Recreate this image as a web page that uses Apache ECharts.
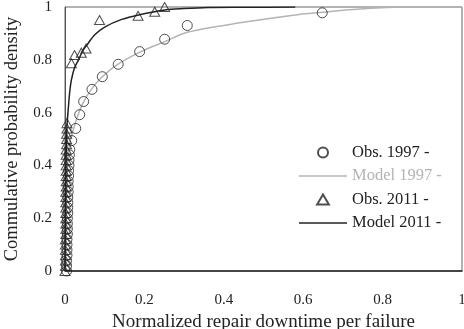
<!DOCTYPE html>
<html>
<head>
<meta charset="utf-8">
<script src="https://cdn.jsdelivr.net/npm/echarts@6/dist/echarts.min.js"></script>
<style>
  html, body { margin: 0; padding: 0; background: #fff; }
  #chart { width: 464px; height: 329px; }
</style>
</head>
<body>
<div id="chart"></div>
<script>
// Observed 1997 repair downtimes (normalized) and their cumulative probability
const obs1997 = [
  [0.004, 0.00], [0.004, 0.02], [0.004, 0.04], [0.005, 0.06], [0.005, 0.08],
  [0.005, 0.10], [0.005, 0.12], [0.006, 0.14], [0.006, 0.16], [0.006, 0.18],
  [0.006, 0.20], [0.007, 0.22], [0.007, 0.24], [0.007, 0.26], [0.007, 0.28],
  [0.008, 0.30], [0.008, 0.32], [0.008, 0.34], [0.009, 0.36], [0.009, 0.38],
  [0.010, 0.40], [0.010, 0.42], [0.011, 0.44], [0.012, 0.46], [0.017, 0.494],
  [0.027, 0.540], [0.037, 0.592], [0.047, 0.642], [0.068, 0.688], [0.094, 0.736],
  [0.134, 0.783], [0.188, 0.831], [0.251, 0.878], [0.308, 0.930], [0.648, 0.978]
];

// Fitted model for 1997
const model1997 = [
  [0, 0], [0.002, 0.20], [0.005, 0.35], [0.008, 0.43], [0.012, 0.485],
  [0.020, 0.530], [0.030, 0.580], [0.045, 0.635], [0.065, 0.685], [0.090, 0.730],
  [0.130, 0.780], [0.190, 0.830], [0.250, 0.868], [0.310, 0.905], [0.440, 0.940],
  [0.590, 0.972], [0.650, 0.980], [0.700, 0.988], [0.830, 0.999], [1.0, 1.0]
];

// Observed 2011 repair downtimes
const obs2011 = [
  [0.000, 0.00], [0.001, 0.02], [0.001, 0.04], [0.001, 0.06], [0.001, 0.08],
  [0.001, 0.10], [0.001, 0.12], [0.002, 0.14], [0.002, 0.16], [0.002, 0.18],
  [0.002, 0.20], [0.002, 0.22], [0.002, 0.24], [0.002, 0.26], [0.002, 0.28],
  [0.002, 0.30], [0.003, 0.32], [0.003, 0.34], [0.003, 0.36], [0.003, 0.38],
  [0.003, 0.40], [0.003, 0.42], [0.003, 0.44], [0.003, 0.46], [0.004, 0.48],
  [0.004, 0.50], [0.004, 0.52], [0.005, 0.54], [0.005, 0.56],
  [0.016, 0.787], [0.024, 0.818], [0.041, 0.827], [0.053, 0.843],
  [0.087, 0.951], [0.184, 0.967], [0.226, 0.982], [0.251, 1.000]
];

// Fitted model for 2011
const model2011 = [
  [0, 0], [0.001, 0.20], [0.002, 0.35], [0.003, 0.45], [0.005, 0.55],
  [0.008, 0.61], [0.012, 0.680], [0.016, 0.723], [0.024, 0.770], [0.034, 0.800],
  [0.045, 0.835], [0.058, 0.862], [0.075, 0.895], [0.101, 0.925], [0.143, 0.953],
  [0.185, 0.970], [0.252, 0.989], [0.300, 0.994], [0.360, 0.998], [0.450, 0.999],
  [0.580, 1.000]
];

const xTicks = { min: 0, max: 1, interval: 0.2 };
const yTicks = { min: 0, max: 1, interval: 0.2 };

const serif = '"Liberation Serif", "Times New Roman", serif';
const ink = '#222';
const grey = '#b4b4b4';

// Legend glyphs: a thin bar for the fitted lines, an open triangle for 2011 points
const lineIcon = 'path://M0,0 H48 V1.5 H0 Z';
const triIcon = 'path://M5,0 L10,8.5 L0,8.5 Z';

const chart = echarts.init(document.getElementById('chart'), null, { renderer: 'canvas' });

const markerStyle = { color: 'rgba(255,255,255,0)', borderColor: ink, borderWidth: 1 };

chart.setOption({
  animation: false,
  backgroundColor: '#fff',
  textStyle: { fontFamily: serif },
  grid: {
    left: 65, right: 2, top: 7, bottom: 58,
    outerBoundsMode: 'none', containLabel: false,
    show: true, borderColor: '#666', borderWidth: 1
  },
  legend: {
    orient: 'vertical',
    left: 294, top: 139,
    itemWidth: 48, itemHeight: 10, itemGap: 6.5,
    symbolKeepAspect: true,
    textStyle: { fontFamily: serif, fontSize: 16.5, color: ink },
    data: [
      { name: 'Obs. 1997 -', icon: 'circle' },
      { name: 'Model 1997 -', icon: lineIcon, textStyle: { color: grey } },
      { name: 'Obs. 2011 -', icon: triIcon },
      { name: 'Model 2011 -', icon: lineIcon }
    ]
  },
  xAxis: {
    type: 'value',
    min: xTicks.min, max: xTicks.max, interval: xTicks.interval,
    name: 'Normalized repair downtime per failure',
    nameLocation: 'middle', nameGap: 37,
    nameTextStyle: { fontFamily: serif, fontSize: 19, color: ink },
    axisLine: { lineStyle: { color: ink, width: 1.5 } },
    axisTick: { show: false },
    splitLine: { show: false },
    axisLabel: { fontFamily: serif, fontSize: 15, color: ink, margin: 22 }
  },
  yAxis: {
    type: 'value',
    min: yTicks.min, max: yTicks.max, interval: yTicks.interval,
    name: 'Commulative probability density',
    nameLocation: 'middle', nameGap: 43,
    nameTextStyle: { fontFamily: serif, fontSize: 18.5, color: ink },
    axisLine: { show: true, lineStyle: { color: '#555', width: 1 } },
    axisTick: { show: false },
    splitLine: { show: false },
    axisLabel: { fontFamily: serif, fontSize: 15, color: ink, margin: 13 }
  },
  series: [
    {
      name: 'Model 1997 -', type: 'line', data: model1997,
      showSymbol: false, symbol: 'none', smooth: 0.3,
      lineStyle: { color: grey, width: 1.5 }, itemStyle: { color: grey },
      z: 2
    },
    {
      name: 'Model 2011 -', type: 'line', data: model2011,
      showSymbol: false, symbol: 'none', smooth: 0.3,
      lineStyle: { color: ink, width: 1.5 }, itemStyle: { color: ink },
      z: 3
    },
    {
      name: 'Obs. 1997 -', type: 'scatter', data: obs1997,
      symbol: 'circle', symbolSize: 10,
      itemStyle: markerStyle, z: 4
    },
    {
      name: 'Obs. 2011 -', type: 'scatter', data: obs2011,
      symbol: 'triangle', symbolSize: [10, 9],
      itemStyle: markerStyle, z: 5
    }
  ]
});
</script>
</body>
</html>
